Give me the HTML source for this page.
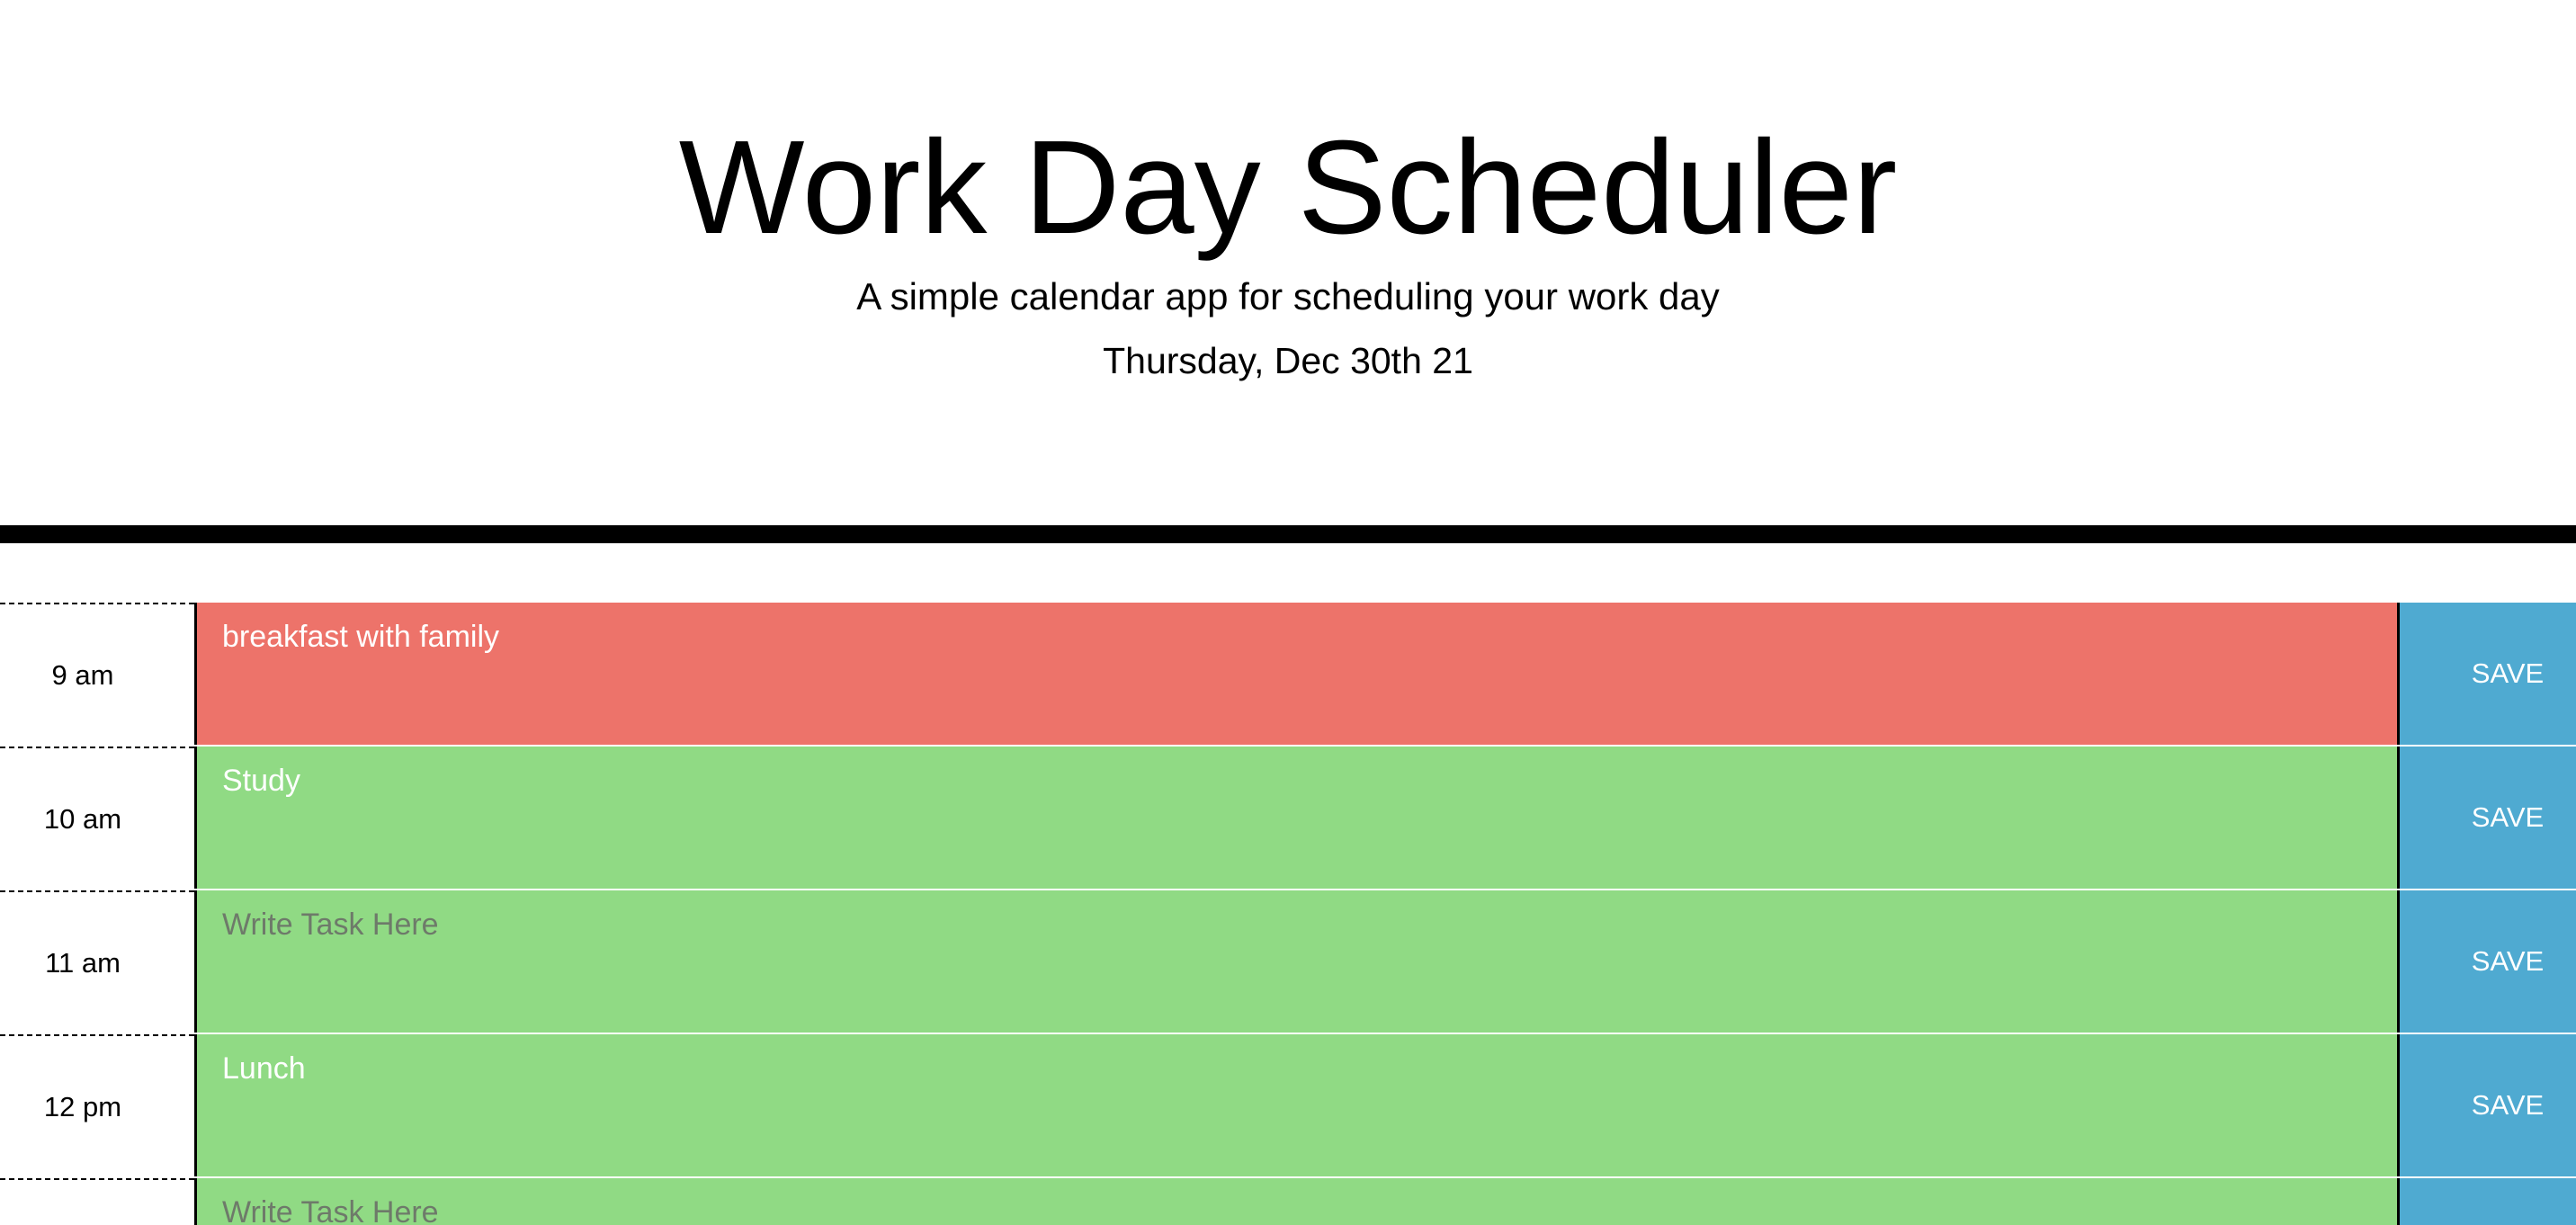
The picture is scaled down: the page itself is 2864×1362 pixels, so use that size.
<!DOCTYPE html>
<html style="overflow:hidden;height:1362px"><head><meta charset="utf-8"><style>
html,body{margin:0;width:2864px;height:1362px;overflow:hidden}
body{background:#fff;font-family:"Liberation Sans",sans-serif;position:relative}
.abs{position:absolute}
h1{position:absolute;left:0;width:2864px;top:124px;margin:0;text-align:center;font-weight:400;font-size:148px;line-height:170px;color:#000}
.sub{left:0;width:2864px;text-align:center;color:#000}
.bar{left:0;top:584px;width:2864px;height:20px;background:#000}
.row{position:absolute;left:0;width:2864px;height:160px;overflow:hidden}
.hour{position:absolute;left:0;top:0;width:216px;border-top:2px dashed #000;text-align:center;font-size:31px;line-height:158px;color:#000;box-sizing:border-box;padding-right:32px;height:160px}
.task{position:absolute;left:216px;top:0;width:2450px;height:158px;border-left:3px solid #000;color:#fff;font-size:34px;box-sizing:border-box;padding:19px 0 0 28px}
.save{position:absolute;left:2665px;top:0;width:199px;height:158px;border-left:3px solid #000;background:#4faad1;color:#fff;font-size:31px;line-height:158px;text-align:center;box-sizing:border-box;padding-left:44px}
.past{background:#ed736a}.future{background:#90da84}
.ph{color:#6e7a6a}
.last .hour,.last .task,.last .save{height:52px;overflow:hidden}
</style></head><body>
<h1>Work Day Scheduler</h1>
<div class="abs sub" style="top:306px;font-size:42px">A simple calendar app for scheduling your work day</div>
<div class="abs sub" style="top:378px;font-size:41px">Thursday, Dec 30th 21</div>
<div class="abs bar"></div>

<div class="row" style="top:670px">
<div class="hour">9 am</div>
<div class="task past">breakfast with family</div>
<div class="save">SAVE</div></div>

<div class="row" style="top:830px">
<div class="hour">10 am</div>
<div class="task future">Study</div>
<div class="save">SAVE</div></div>

<div class="row" style="top:990px">
<div class="hour">11 am</div>
<div class="task future ph">Write Task Here</div>
<div class="save">SAVE</div></div>

<div class="row" style="top:1150px">
<div class="hour">12 pm</div>
<div class="task future">Lunch</div>
<div class="save">SAVE</div></div>

<div class="row last" style="top:1310px;height:52px">
<div class="hour"></div>
<div class="task future ph">Write Task Here</div>
<div class="save"></div></div>
</body></html>
